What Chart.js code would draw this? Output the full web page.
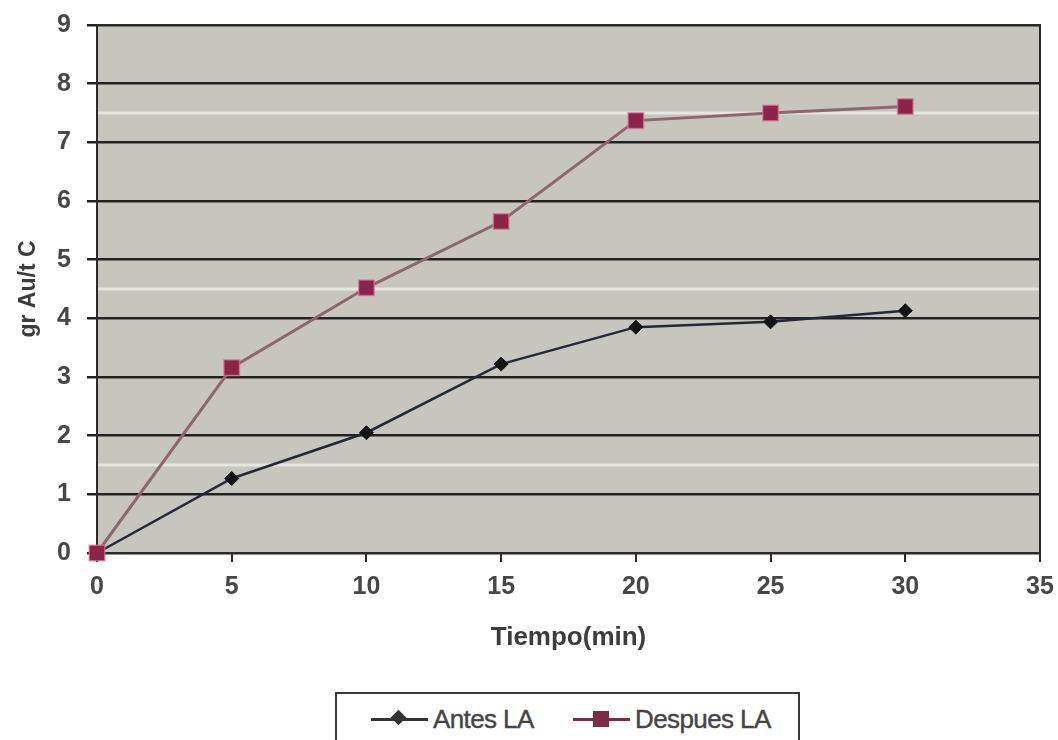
<!DOCTYPE html>
<html>
<head>
<meta charset="utf-8">
<script src="https://cdn.jsdelivr.net/npm/chart.js@4.4.1/dist/chart.umd.min.js"></script>
<style>
  html, body { margin: 0; padding: 0; background: #fff; }
  #wrap { position: relative; width: 1058px; height: 740px; overflow: hidden; }
  #chart { position: absolute; left: 0; top: 0; }
  .legend {
    position: absolute; left: 335px; top: 692px; width: 465px; height: 70px;
    border: 2px solid #3a3a3a; background: #fff; box-sizing: border-box;
    font-family: 'Liberation Sans', Arial, sans-serif; font-size: 26px; color: #454545;
  }
  .item { position: absolute; top: 10px; height: 30px; line-height: 30px; white-space: nowrap; }
  .mk { position: absolute; top: 14px; height: 3px; width: 57px; }
  .mk i { position: absolute; display: block; }
  .txt { position: absolute; left: 62px; top: 0; letter-spacing: -0.6px; -webkit-text-stroke: 0.4px #454545; }
</style>
</head>
<body>
<div id="wrap">
  <canvas id="chart" width="1058" height="740"></canvas>
  <div class="legend">
    <div class="item" style="left:34px">
      <span class="mk" style="background:#333"><i style="left:22px;top:-6px;width:11px;height:11px;background:#333;transform:rotate(45deg)"></i></span>
      <span class="txt">Antes LA</span>
    </div>
    <div class="item" style="left:236px">
      <span class="mk" style="background:#7b2d48"><i style="left:20px;top:-7px;width:16px;height:16px;background:#7b2d48"></i></span>
      <span class="txt">Despues LA</span>
    </div>
  </div>
</div>
<script>
/* ========== Data ========== */
const tiempo  = [0, 5, 10, 15, 20, 25, 30];
const antes   = [0, 1.27, 2.05, 3.22, 3.85, 3.94, 4.13];
const despues = [0, 3.16, 4.52, 5.65, 7.37, 7.50, 7.61];
const yTicks  = [0, 1, 2, 3, 4, 5, 6, 7, 8, 9];
const xTicks  = [0, 5, 10, 15, 20, 25, 30, 35];

/* ========== Styles ========== */
const FONT = "'Liberation Sans', Arial, sans-serif";
const INK = '#474747';

/* ========== Plot background plugin ========== */
const plotBgPlugin = {
  id: 'plotBg',
  beforeDraw(chart) {
    const { ctx, chartArea: a, width, height } = chart;
    ctx.save();
    ctx.fillStyle = '#ffffff';
    ctx.fillRect(0, 0, width, height);
    ctx.fillStyle = '#c6c6be';
    ctx.fillRect(a.left, a.top, a.right - a.left, a.bottom - a.top);
    // pale streaks across the plot
    const y = chart.scales.y;
    ctx.strokeStyle = 'rgba(255,255,255,0.55)';
    ctx.lineWidth = 3;
    [1.5, 4.5, 7.5].forEach(v => {
      const py = y.getPixelForValue(v);
      ctx.beginPath();
      ctx.moveTo(a.left, py);
      ctx.lineTo(a.right, py);
      ctx.stroke();
    });
    ctx.restore();
  },
  beforeDatasetsDraw(chart) {
    const { ctx, chartArea: a } = chart;
    ctx.save();
    ctx.strokeStyle = '#2a2a2a';
    ctx.lineWidth = 2;
    ctx.strokeRect(a.left, a.top, a.right - a.left, a.bottom - a.top);
    ctx.restore();
  }
};

const toPoints = ys => tiempo.map((t, i) => ({ x: t, y: ys[i] }));

new Chart(document.getElementById('chart'), {
  type: 'line',
  data: {
    datasets: [
      {
        label: 'Antes LA',
        data: toPoints(antes),
        borderColor: '#23283a',
        borderWidth: 2.5,
        pointStyle: 'rectRot',
        pointRadius: 7,
        pointBackgroundColor: '#141414',
        pointBorderColor: '#141414',
        pointBorderWidth: 1,
        tension: 0,
        clip: false,
        order: 1
      },
      {
        label: 'Despues LA',
        data: toPoints(despues),
        borderColor: '#8c6670',
        borderWidth: 3,
        pointStyle: 'rect',
        pointRadius: 11,
        pointBackgroundColor: '#8b2448',
        pointBorderColor: 'rgba(214,120,150,0.7)',
        pointBorderWidth: 1.5,
        tension: 0,
        clip: false,
        order: 0
      }
    ]
  },
  options: {
    responsive: false,
    animation: false,
    events: [],
    layout: { padding: { top: 25, right: 18, bottom: 80, left: 0 } },
    plugins: {
      legend: { display: false },
      tooltip: { enabled: false }
    },
    scales: {
      x: {
        type: 'linear',
        min: 0,
        max: 35,
        afterBuildTicks: s => { s.ticks = xTicks.map(v => ({ value: v })); },
        afterFit: s => { s.height = 107; s.paddingLeft = 0; s.paddingRight = 0; },
        ticks: { color: INK, padding: 10, font: { family: FONT, size: 25, weight: 'bold' } },
        grid: { drawOnChartArea: false, drawTicks: true, tickLength: 9, color: '#2a2a2a', lineWidth: 2 },
        border: { display: true, color: '#2a2a2a', width: 2 },
        title: {
          display: true, text: 'Tiempo(min)', color: '#3c3c3c',
          font: { family: FONT, size: 26, weight: 'bold' },
          padding: { top: 0, bottom: 7 }
        }
      },
      y: {
        min: 0,
        max: 9,
        afterBuildTicks: s => { s.ticks = yTicks.map(v => ({ value: v })); },
        afterFit: s => { s.width = 97; s.paddingTop = 0; s.paddingBottom = 0; },
        ticks: { color: INK, padding: 16, font: { family: FONT, size: 25, weight: 'bold' } },
        grid: { color: '#222222', lineWidth: 2.5, tickLength: 10 },
        border: { display: true, color: '#2a2a2a', width: 2 },
        title: {
          display: true, text: 'gr Au/t C', color: '#3c3c3c',
          font: { family: FONT, size: 23, weight: 'bold' },
          padding: { top: 15, bottom: 0 }
        }
      }
    }
  },
  plugins: [plotBgPlugin]
});
</script>
</body>
</html>
